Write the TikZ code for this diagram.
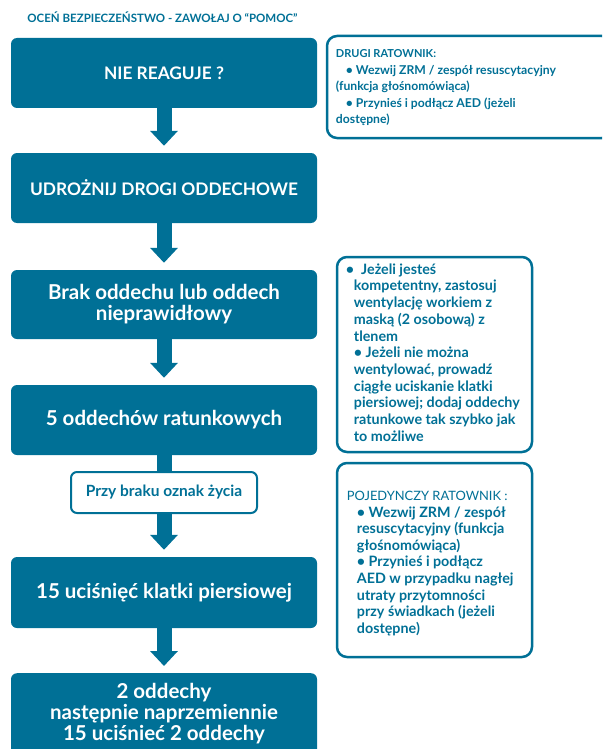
\documentclass[tikz,border=0pt]{standalone}
\usepackage{fontspec}
\setmainfont{Lato}
\usetikzlibrary{arrows.meta}
\definecolor{ercblue}{RGB}{0,112,150}

\begin{document}
\begin{tikzpicture}[x=1pt,y=-1pt,
    mainbox/.style={fill=ercblue, rounded corners=6pt, text=white, align=center,
        font=\bfseries\fontsize{17.3}{21}\selectfont, minimum width=306pt, inner sep=0pt},
    mainlower/.style={mainbox, font=\bfseries\fontsize{20.5}{21}\selectfont},
    stepnote/.style={draw=ercblue, line width=2pt, fill=white, rounded corners=6pt, text=ercblue,
        font=\bfseries\fontsize{15.5}{18}\selectfont, minimum width=186pt, minimum height=41pt},
    sidebox/.style={draw=ercblue, line width=2.5pt, fill=white, rounded corners=10pt},
    sidetext/.style={text=ercblue, align=left, anchor=west, inner sep=0pt,
        font=\bfseries\fontsize{14.3}{16.7}\selectfont},
    flow/.style={ercblue, line width=15pt, -{Triangle[width=27pt,length=15pt]}, shorten >=7pt},
    link/.style={ercblue, line width=15pt}
    ]

    % Page
    \useasboundingbox (0,0) rectangle (602,749);
    \clip (0,0) rectangle (602,749);

    % Title
    \node[text=ercblue, font=\bfseries\fontsize{11.5}{13}\selectfont] (title) at (162.5,17)
        {OCEŃ BEZPIECZEŃSTWO - ZAWOŁAJ O “POMOC”};

    % Main steps
    \node[mainbox, minimum height=70pt] (check) at (164,73) {NIE REAGUJE ?};
    \node[mainbox, minimum height=70pt] (airway) at (164,188) {UDROŻNIJ DROGI ODDECHOWE};
    \node[mainlower, minimum height=69pt] (nobreath) at (164,304.5) {Brak oddechu lub oddech\\nieprawidłowy};
    \node[mainlower, minimum height=70pt] (rescue) at (164,420) {5 oddechów ratunkowych};
    \node[stepnote] (nosigns) at (164,492.5) {Przy braku oznak życia};
    \node[mainlower, minimum height=71pt] (compress) at (164,592.5) {15 uciśnięć klatki piersiowej};
    \node[mainlower, anchor=north, inner ysep=10.5pt] (cycle) at (164,673)
        {2 oddechy\\ następnie naprzemiennie\\15 uciśnieć 2 oddechy\\ \strut};

    % Arrows
    \draw[flow] (check.south) -- (airway.north);
    \draw[flow] (airway.south) -- (nobreath.north);
    \draw[flow] (nobreath.south) -- (rescue.north);
    \draw[link] (rescue.south) -- (nosigns.north);
    \draw[flow] (nosigns.south) -- (compress.north);
    \draw[flow] (compress.south) -- (cycle.north);

    % Side notes
    \node[sidebox, minimum width=285pt, minimum height=102pt] (second) at (469.5,87) {};
    \node[sidetext, font=\bfseries\fontsize{12.2}{16.5}\selectfont] (secondtext)
        at ([xshift=10pt,yshift=-1pt]second.west)
        {{\fontsize{11}{16.5}\selectfont DRUGI RATOWNIK:}\\
         \hspace{10pt}• Wezwij ZRM / zespół resuscytacyjny\\
         (funkcja głośnomówiąca)\\
         \hspace{10pt}• Przynieś i podłącz AED (jeżeli\\
         dostępne)};

    \node[sidebox, minimum width=195pt, minimum height=195pt] (bagmask) at (434.5,354.5) {};
    \node[sidetext] (bagmasktext) at ([xshift=10pt,yshift=2pt]bagmask.west)
        {•\ \ Jeżeli jesteś\\
         \hspace{8pt}kompetentny, zastosuj\\
         \hspace{8pt}wentylację workiem z\\
         \hspace{8pt}maską (2 osobową) z\\
         \hspace{8pt}tlenem\\
         \hspace{8pt}• Jeżeli nie można\\
         \hspace{8pt}wentylować, prowadź\\
         \hspace{8pt}ciągłe uciskanie klatki\\
         \hspace{8pt}piersiowej; dodaj oddechy\\
         \hspace{8pt}ratunkowe tak szybko jak\\
         \hspace{8pt}to możliwe};

    \node[sidebox, minimum width=195pt, minimum height=194pt] (single) at (434.5,560) {};
    \node[sidetext, font=\bfseries\fontsize{14.3}{16.6}\selectfont] (singletext)
        at ([xshift=11pt,yshift=-3.5pt]single.west)
        {{\mdseries\fontsize{12.9}{16.6}\selectfont POJEDYNCZY RATOWNIK :}\\
         \hspace{10pt}• Wezwij ZRM / zespół\\
         \hspace{10pt}resuscytacyjny (funkcja\\
         \hspace{10pt}głośnomówiąca)\\
         \hspace{10pt}• Przynieś i podłącz\\
         \hspace{10pt}AED w przypadku nagłej\\
         \hspace{10pt}utraty przytomności\\
         \hspace{10pt}przy świadkach (jeżeli\\
         \hspace{10pt}dostępne)};

\end{tikzpicture}
\end{document}
